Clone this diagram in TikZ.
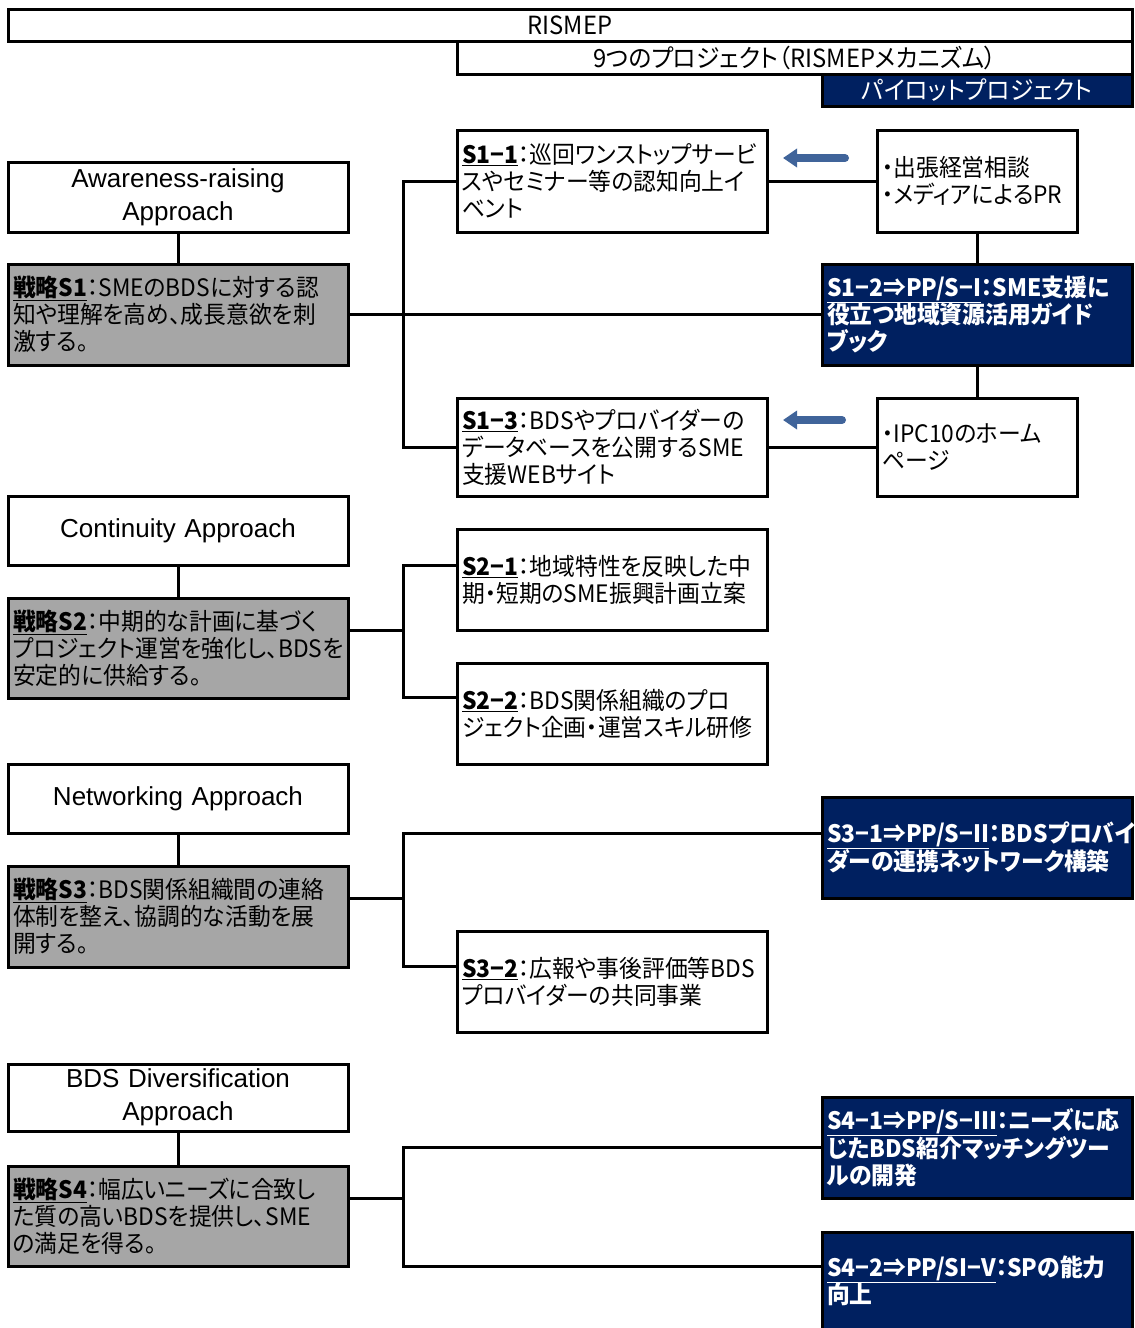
\documentclass[tikz,border=0pt]{standalone}
\usepackage{fontspec}
\setmainfont{Noto Sans CJK JP}[RawFeature=+palt, FakeStretch=0.95]
\newfontfamily\enfont{Liberation Sans}
\usetikzlibrary{arrows.meta}
\definecolor{navy}{HTML}{002060}
\definecolor{gfill}{HTML}{A6A6A6}
\definecolor{arrblue}{HTML}{40649A}
\newcommand\myul[1]{\underline{#1}}
\begin{document}
\begin{tikzpicture}[x=1pt,y=-1pt,
  bx/.style={draw=black, line width=3pt, fill=white, outer sep=0pt, inner xsep=5pt, inner ysep=0pt,
    anchor=north west, align=left, font=\fontsize{24}{27}\selectfont, text=black},
  gbx/.style={bx, fill=gfill},
  nbx/.style={bx, fill=navy, text=white, font=\fontsize{24}{27}\selectfont\bfseries},
  ebx/.style={bx, align=center, font=\enfont\fontsize{26}{33}\selectfont},
  hbx/.style={bx, align=center, font=\fontsize{25}{28}\selectfont},
  wl/.style={minimum width=340pt, text width=330pt},
  wm/.style={minimum width=310pt, text width=300pt},
  ws/.style={minimum width=200pt, text width=190pt},
  conn/.style={line width=3pt, black},
  barrow/.style={line width=8pt, arrblue, line cap=round, -{Triangle[length=14pt,width=18pt]}}
]
\useasboundingbox (0,0) rectangle (1135,1328);

% header
\node[hbx, minimum width=1124pt, text width=1114pt, minimum height=32pt] (ris) at (8,9) {RISMEP};
\node[hbx, minimum width=675pt, text width=665pt, minimum height=33pt] (nine) at (457,41) {9つのプロジェクト（RISMEPメカニズム）};
\node[hbx, fill=navy, text=white, minimum width=310pt, text width=300pt, minimum height=32pt] (pilot) at (822,74) {パイロットプロジェクト};

% left column
\node[ebx, wl, minimum height=70pt] (aw) at (8,162) {Awareness-raising\\Approach};
\node[gbx, wl, minimum height=101pt] (st1) at (8,264) {\myul{\textbf{戦略S1}}：SMEのBDSに対する認\\知や理解を高め、成長意欲を刺\\激する。};
\node[ebx, wl, minimum height=69pt] (co) at (8,496) {Continuity Approach};
\node[gbx, wl, minimum height=100pt] (st2) at (8,598) {\myul{\textbf{戦略S2}}：中期的な計画に基づく\\プロジェクト運営を強化し、BDSを\\安定的に供給する。};
\node[ebx, wl, minimum height=69pt] (nw) at (8,764) {Networking Approach};
\node[gbx, wl, minimum height=101pt] (st3) at (8,866) {\myul{\textbf{戦略S3}}：BDS関係組織間の連絡\\体制を整え、協調的な活動を展\\開する。};
\node[ebx, wl, minimum height=67pt] (bd) at (8,1064) {BDS Diversification\\Approach};
\node[gbx, wl, minimum height=100pt] (st4) at (8,1166) {\myul{\textbf{戦略S4}}：幅広いニーズに合致し\\た質の高いBDSを提供し、SME\\の満足を得る。};

% middle column
\node[bx, wm, minimum height=102pt] (s11) at (457,130) {\myul{\textbf{S1−1}}：巡回ワンストップサービ\\スやセミナー等の認知向上イ\\ベント};
\node[bx, wm, minimum height=98pt] (s13) at (457,398) {\myul{\textbf{S1−3}}：BDSやプロバイダーの\\データベースを公開するSME\\支援WEBサイト};
\node[bx, wm, minimum height=101pt] (s21) at (457,529) {\myul{\textbf{S2−1}}：地域特性を反映した中\\期・短期のSME振興計画立案};
\node[bx, wm, minimum height=101pt] (s22) at (457,663) {\myul{\textbf{S2−2}}：BDS関係組織のプロ\\ジェクト企画・運営スキル研修};
\node[bx, wm, minimum height=101pt] (s32) at (457,931) {\myul{\textbf{S3−2}}：広報や事後評価等BDS\\プロバイダーの共同事業};

% right column
\node[bx, ws, minimum height=102pt] (ob) at (877,130) {・出張経営相談\\・メディアによるPR};
\node[nbx, wm, minimum height=101pt] (s12) at (822,264) {\myul{S1−2⇒PP/S−I}：SME支援に\\役立つ地域資源活用ガイド\\ブック};
\node[bx, ws, minimum height=98pt] (ipc) at (877,398) {・IPC10のホーム\\ページ};
\node[nbx, wm, minimum height=101pt] (s31) at (822,797) {\myul{S3−1⇒PP/S−II}：BDSプロバイ\\ダーの連携ネットワーク構築};
\node[nbx, wm, minimum height=101pt] (s41) at (822,1097) {\myul{S4−1⇒PP/S−III}：ニーズに応\\じたBDS紹介マッチングツー\\ルの開発};
\node[nbx, wm, minimum height=98pt] (s42) at (822,1232) {\myul{S4−2⇒PP/SI−V}：SPの能力\\向上};

% bus coordinates
\coordinate (b1) at (403,314.5);
\coordinate (b2) at (403,630);
\coordinate (b3) at (403,898);
\coordinate (b4) at (403,1198);

% connectors
\draw[conn] (aw.south) -- (st1.north);
\draw[conn] (co.south) -- (st2.north);
\draw[conn] (nw.south) -- (st3.north);
\draw[conn] (bd.south) -- (st4.north);

\draw[conn] (st1.east) -- (s12.west);
\draw[conn] (s11.west) -| (b1) |- (s13.west);
\draw[conn] (s11.east) -- (ob.west);
\draw[conn] (ob.south) -- (s12.north);
\draw[conn] (s12.south) -- (ipc.north);
\draw[conn] (s13.east) -- (ipc.west);

\draw[conn] ([yshift=-32pt]st2.north east) -- (b2);
\draw[conn] ([yshift=-36pt]s21.north west) -| (b2) |- ([yshift=-34pt]s22.north west);

\draw[conn] ([yshift=-32pt]st3.north east) -- (b3);
\draw[conn] ([yshift=-36pt]s31.north west) -| (b3) |- ([yshift=-35pt]s32.north west);

\draw[conn] ([yshift=-32pt]st4.north east) -- (b4);
\draw[conn] (s41.west) -| (b4) |- ([yshift=-34pt]s42.north west);

% blue arrows
\coordinate (a1s) at (845,158);
\coordinate (a1e) at (783,158);
\coordinate (a2s) at (842,420);
\coordinate (a2e) at (783,420);
\draw[barrow] (a1s) -- (a1e);
\draw[barrow] (a2s) -- (a2e);
\end{tikzpicture}
\end{document}
